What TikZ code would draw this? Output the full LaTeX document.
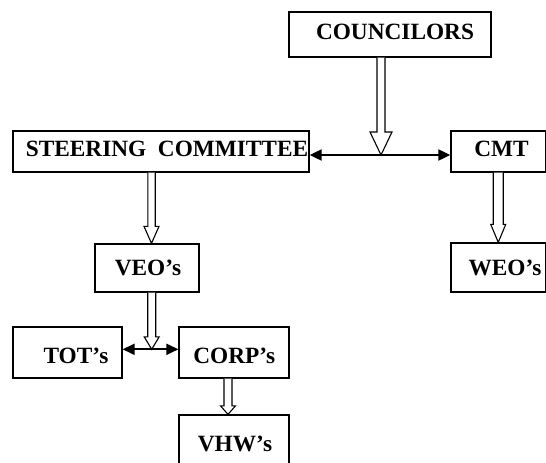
\documentclass[tikz,border=0pt]{standalone}
\usepackage{fontspec}
\setmainfont{Liberation Serif}
\usetikzlibrary{calc,arrows.meta}
\newcommand\hollowarr[5]{% #1 start, #2 tip, #3 shaft half width, #4 head half width, #5 head length
  \draw[hollowline] let \p1=#1, \p2=#2 in
    (\x1-#3pt,\y1) -- (\x1-#3pt,\y2+#5pt) -- (\x1-#4pt,\y2+#5pt) -- (\x1,\y2)
    -- (\x1+#4pt,\y2+#5pt) -- (\x1+#3pt,\y2+#5pt) -- (\x1+#3pt,\y1);}
\begin{document}
\begin{tikzpicture}[x=1pt,y=-1pt,
  box/.style={draw,line width=1.3pt,inner sep=0pt},
  lbl/.style={anchor=base,inner sep=0pt,font=\bfseries\fontsize{23.3}{28}\selectfont},
  hollowline/.style={draw,line width=1.1pt,fill=white,line join=miter},
  dbl/.style={line width=2pt,{Triangle[length=12pt,width=11pt]}-{Triangle[length=12pt,width=11pt]}}]
\useasboundingbox (0,0) rectangle (546,463);
% boxes
\node[box,minimum width=202pt,minimum height=45pt] (councilors) at (390,34.5) {};
\node[box,minimum width=296pt,minimum height=41pt] (steer) at (161,151.5) {};
\node[box,minimum width=94.5pt,minimum height=41pt] (cmt) at (498.25,151.5) {};
\node[box,minimum width=94.5pt,minimum height=49pt] (weo) at (498.25,267.5) {};
\node[box,minimum width=104pt,minimum height=48pt] (veo) at (147,268) {};
\node[box,minimum width=109pt,minimum height=51pt] (tot) at (67.5,352.5) {};
\node[box,minimum width=110pt,minimum height=51pt] (corp) at (234,352.5) {};
\node[box,minimum width=110pt,minimum height=62pt] (vhw) at (234,446) {};
% labels
\node[lbl] (councilors-t) at (395,39) {COUNCILORS};
\node[lbl] (steer-t) at (167,156.7) {STEERING\ \ COMMITTEE};
\node[lbl] (cmt-t) at (501.5,156.7) {CMT};
\node[lbl] (weo-t) at (505,275) {WEO's};
\node[lbl] (veo-t) at (148,275) {VEO’s};
\node[lbl] (tot-t) at (76,363) {TOT’s};
\node[lbl] (corp-t) at (234.3,363) {CORP’s};
\node[lbl] (vhw-t) at (235,451.7) {VHW’s};
% junctions
\coordinate (j1) at (381,155);
\coordinate (j2) at (151.7,349.3);
\path (veo.north) ++(4.5,0) coordinate (t1);
\path (vhw.north) ++(-6,0) coordinate (t2);
% double arrows
\draw[dbl] (steer.east |- j1) -- (cmt.west |- j1);
\draw[dbl] (tot.east |- j2) -- (corp.west |- j2);
% hollow arrows
\hollowarr{(councilors.south -| j1)}{(j1)}{4}{11}{23}
\hollowarr{(steer.south -| t1)}{(t1)}{3.7}{7.5}{17}
\hollowarr{(cmt.south)}{(weo.north)}{5}{7.5}{18}
\hollowarr{(veo.south -| j2)}{(j2)}{4}{7.5}{12.5}
\hollowarr{(corp.south -| t2)}{(t2)}{4}{7.5}{8.5}
\end{tikzpicture}
\end{document}
